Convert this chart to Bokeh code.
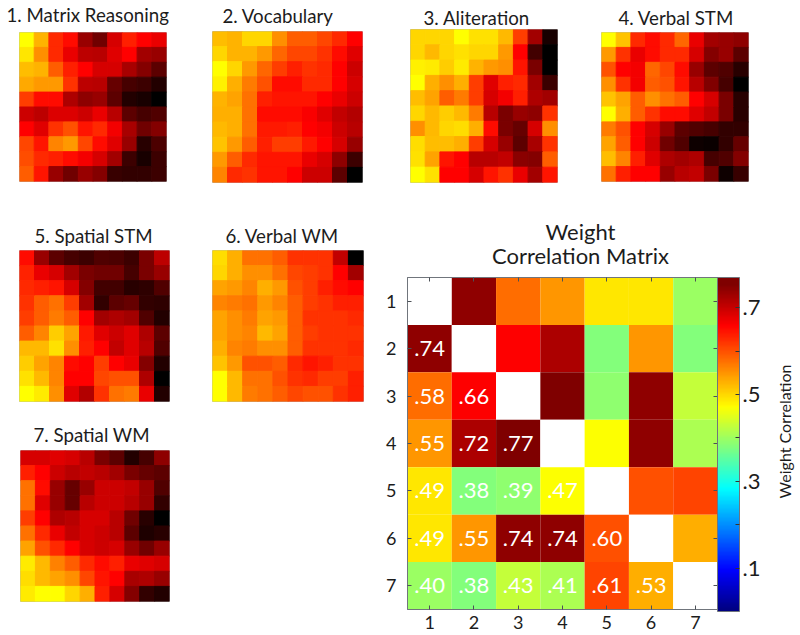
from bokeh.embed import file_html
from bokeh.resources import INLINE
from bokeh.plotting import figure
from bokeh.layouts import row, column
from bokeh.models import (ColumnDataSource, LinearColorMapper, ColorBar, FixedTicker, Label, LinearAxis)
from bokeh.transform import transform

# ---- data ----
titles = ["1. Matrix Reasoning", "2. Vocabulary", "3. Aliteration", "4. Verbal STM",
          "5. Spatial STM", "6. Verbal WM", "7. Spatial WM"]
matrix_reasoning = [
 [100,85,58,52,30,22,42,56,50,46],[95,78,58,46,37,36,44,50,32,30],[87,85,68,56,50,42,42,33,26,18],
 [83,80,80,60,37,36,20,14,12,7],[62,52,52,34,28,30,18,7,5,0],[40,37,43,43,40,46,36,18,14,16],
 [50,44,60,66,54,58,48,33,22,26],[64,54,76,80,64,52,44,30,8,15],[65,58,56,52,48,42,32,12,5,12],
 [68,54,30,22,30,26,11,10,10,12]]
vocabulary = [
 [87,85,92,92,78,68,68,64,58,50],[92,85,85,80,70,64,64,60,52,44],[100,92,80,70,62,56,60,58,50,40],
 [97,84,74,66,52,52,58,58,50,42],[85,82,72,56,54,54,54,50,46,40],[84,84,72,52,52,52,49,44,38,35],
 [86,84,72,55,55,56,50,48,40,36],[88,80,68,56,62,62,55,50,42,30],[80,68,58,54,54,54,46,42,28,12],
 [76,58,60,54,54,50,40,40,18,0]]
aliteration = [
 [92,92,92,100,94,94,86,62,32,5],[92,86,92,94,92,92,80,50,13,0],[97,96,90,96,85,80,78,54,24,0],
 [100,84,78,84,62,44,56,58,32,12],[87,82,68,74,62,42,48,56,34,32],[92,86,90,86,74,36,24,30,28,60],
 [78,86,92,93,84,52,24,20,42,78],[93,87,87,84,62,42,30,18,33,60],[94,82,54,50,36,36,38,27,26,68],
 [100,94,50,50,42,54,60,46,32,54]]
verbal_stm = [
 [100,88,58,52,58,70,46,32,30,28],[80,60,46,52,58,58,42,26,30,18],[66,50,48,70,64,52,30,18,16,8],
 [78,60,48,68,66,54,36,25,14,0],[88,82,68,78,72,68,50,42,24,8],[100,84,68,60,52,52,44,38,24,8],
 [74,66,50,42,30,18,16,14,10,10],[82,68,50,40,22,16,3,2,10,20],[87,76,56,44,34,32,34,14,16,26],
 [72,56,50,50,30,36,38,24,3,11]]
spatial_stm = [
 [52,30,18,14,12,16,15,12,24,37],[57,46,42,32,24,22,22,14,24,30],[58,56,54,42,26,13,13,8,9,16],
 [60,68,72,62,32,10,18,20,10,9],[62,68,74,68,50,32,34,32,16,7],[68,76,90,82,55,44,40,44,34,18],
 [86,86,94,78,56,50,38,44,36,16],[90,82,76,52,50,62,50,46,26,7],[94,86,76,50,50,64,66,66,34,0],
 [100,96,78,44,35,60,72,74,46,7]]
verbal_wm = [
 [93,84,72,72,68,60,60,60,38,0],[92,84,78,78,72,64,62,60,50,32],[82,80,76,84,80,66,62,56,52,50],
 [76,74,72,80,76,68,62,60,56,56],[82,78,74,82,80,68,60,60,60,58],[82,78,76,86,82,68,62,60,60,60],
 [84,76,74,78,78,68,60,60,60,58],[88,80,66,66,68,58,54,56,60,60],[100,86,72,72,66,60,58,62,62,56],
 [100,86,74,72,68,64,66,66,60,56]]
spatial_wm = [
 [42,42,44,42,36,24,18,7,14,28],[56,50,40,36,38,36,32,24,20,18],[72,52,30,20,30,40,40,38,30,16],
 [72,44,30,20,36,40,40,36,30,10],[62,50,34,36,42,42,36,22,8,0],[72,58,46,38,42,40,36,18,6,8],
 [82,66,58,50,42,40,42,30,22,30],[96,86,75,68,58,52,56,46,44,42],[93,86,82,78,64,54,50,33,34,30],
 [96,100,100,92,84,56,42,26,10,7]]
corr_ticks = [1, 2, 3, 4, 5, 6, 7]
corr = [
 [None,.74,.58,.55,.49,.49,.40],
 [.74,None,.66,.72,.38,.55,.38],
 [.58,.66,None,.77,.39,.74,.43],
 [.55,.72,.77,None,.47,.74,.41],
 [.49,.38,.39,.47,None,.60,.61],
 [.49,.55,.74,.74,.60,None,.53],
 [.40,.38,.43,.41,.61,.53,None]]
cbar_ticks = [.1, .3, .5, .7]
cbar_minor = [.2, .4, .6]
cbar_labels = {.1: ".1", .3: ".3", .5: ".5", .7: ".7"}

FONT = "Lato"
INK = "#1c1c1c"

# ---- colour tables ----
def ramp(t):
    return "#%02x%02x%02x" % (int(255 * min(1, t * 2)), int(255 * max(0, t * 2 - 1)), 0)
HOT = [ramp(i / 255) for i in range(256)]
def jet(t):
    t = min(1.0, t * .77 / .755)
    f = lambda c: max(0.0, min(1.0, 1.5 - abs(4 * t - c)))
    return "#%02x%02x%02x" % (int(255 * f(3)), int(255 * f(2)), int(255 * f(1)))
JET = [jet(i / 255) for i in range(256)]

def panel(mat, title, w, h, left, right, top, bottom, tx, ty):
    n = len(mat)
    xs, ys, vs = [], [], []
    for r, line in enumerate(mat):
        for c, v in enumerate(line):
            xs.append(c + .5); ys.append(r + .5); vs.append(v)
    p = figure(width=left + w + right, height=top + h + bottom, x_range=(0, n), y_range=(n, 0),
               output_backend="svg", toolbar_location=None,
               x_axis_location=None, y_axis_location=None,
               min_border_left=left, min_border_right=right, min_border_top=top, min_border_bottom=bottom)
    p.grid.visible = False
    p.border_fill_color = None
    p.outline_line_color = "#b5b5b5"
    mapper = LinearColorMapper(palette=HOT, low=0, high=100)
    src = ColumnDataSource(dict(x=xs, y=ys, v=vs))
    p.rect("x", "y", 1, 1, source=src, fill_color=transform("v", mapper),
           line_color=transform("v", mapper), line_width=1)
    p.add_layout(Label(x=tx, y=ty, x_units="screen", y_units="screen", text=title,
                       text_align="left", text_baseline="middle",
                       text_font=FONT, text_font_size="18.7px", text_color=INK), "above")
    return p

p1 = panel(matrix_reasoning, titles[0], 147, 149, 19, 34, 32, 19, -13, 18)
p2 = panel(vocabulary, titles[1], 150, 151, 12, 38, 31, 18, 10, 16)
p3 = panel(aliteration, titles[2], 147, 153, 10, 33, 29, 18, 13, 12)
p4 = panel(verbal_stm, titles[3], 147, 149, 11, 42, 32, 19, 17, 15)
p5 = panel(spatial_stm, titles[4], 150, 151, 19, 31, 50, 24, 15, 15)
p6 = panel(verbal_wm, titles[5], 151, 151, 12, 17, 50, 24, 13, 15)
p7 = panel(spatial_wm, titles[6], 149, 151, 20, 31, 25, 22, 13, 16)

# ---- correlation matrix ----
xs, ys, vs, tx, ty, tt = [], [], [], [], [], []
for r, line in enumerate(corr):
    for c, v in enumerate(line):
        xs.append(c + 1); ys.append(r + 1); vs.append(float("nan") if v is None else v)
        if v is not None and c < r:
            tx.append(c + 1); ty.append(r + 1); tt.append(("%.2f" % v)[1:])
jet_map = LinearColorMapper(palette=JET, low=0, high=.77, nan_color="white")
CW, CH, CL, CR, CT, CB = 310, 332, 27, 80, 77, 22
q = figure(width=CL + CW + CR, height=CT + CH + CB, x_range=(.5, 7.5), y_range=(7.5, .5),
           output_backend="svg", toolbar_location=None,
           frame_width=CW, frame_height=CH,
           min_border_left=CL, min_border_right=CR, min_border_top=CT, min_border_bottom=CB)
q.grid.visible = False
q.border_fill_color = None
q.outline_line_color = "#70757c"
q.rect("x", "y", 1, 1, source=ColumnDataSource(dict(x=xs, y=ys, v=vs)),
       fill_color=transform("v", jet_map), line_color=None)
q.text("x", "y", "t", source=ColumnDataSource(dict(x=tx, y=ty, t=tt)), text_color="white",
       text_align="center", text_baseline="middle", text_font={"value": FONT}, text_font_size="22px")
for ax in (q.xaxis[0], q.yaxis[0]):
    ax.ticker = FixedTicker(ticks=corr_ticks)
    ax.major_tick_in = 4; ax.major_tick_out = 0; ax.minor_tick_line_color = None
    ax.major_tick_line_color = "#4c5157"; ax.axis_line_color = "#70757c"
    ax.major_label_text_font = FONT; ax.major_label_text_font_size = "18px"
    ax.major_label_text_color = INK
q.xaxis[0].major_label_standoff = 6
q.yaxis[0].major_label_standoff = 11
q.yaxis[0].major_label_orientation = "horizontal"
for side in ("above", "right"):
    a = LinearAxis(ticker=FixedTicker(ticks=[], minor_ticks=corr_ticks),
                   minor_tick_in=4, minor_tick_out=0, minor_tick_line_color="#4c5157",
                   axis_line_color="#70757c", major_tick_line_color=None, major_label_standoff=6 if side == "right" else 0)
    q.add_layout(a, side)
cb = ColorBar(color_mapper=jet_map, width=22, height=334, padding=0, margin=0,
              ticker=FixedTicker(ticks=cbar_ticks, minor_ticks=cbar_minor), major_label_overrides=cbar_labels,
              major_tick_in=4, major_tick_out=0, major_tick_line_color="#333333",
              minor_tick_in=4, minor_tick_out=0, minor_tick_line_color="#333333",
              major_label_text_font=FONT, major_label_text_font_size="22px",
              major_label_text_color=INK, bar_line_color="#70757c", label_standoff=3,
              background_fill_color=None, border_line_color=None)
q.add_layout(cb, "right")
q.add_layout(Label(x=21, y=178, x_units="screen", y_units="screen", text="Weight Correlation",
                   angle=90, angle_units="deg", text_align="center", text_baseline="middle",
                   text_font=FONT, text_font_size="16px", text_color=INK), "right")
for line, yy in (("Correlation Matrix", 22), ("Weight", 19)):
    q.add_layout(Label(x=173, y=yy, x_units="screen", y_units="screen", text=line,
                       text_align="center", text_baseline="middle",
                       text_font=FONT, text_font_size="22px", text_color=INK), "above")

layout = column(
    row(p1, column(p2), column(p3), p4),
    row(column(row(p5, p6), p7), q),
)
open("out.html", "w").write(file_html(layout, INLINE))
